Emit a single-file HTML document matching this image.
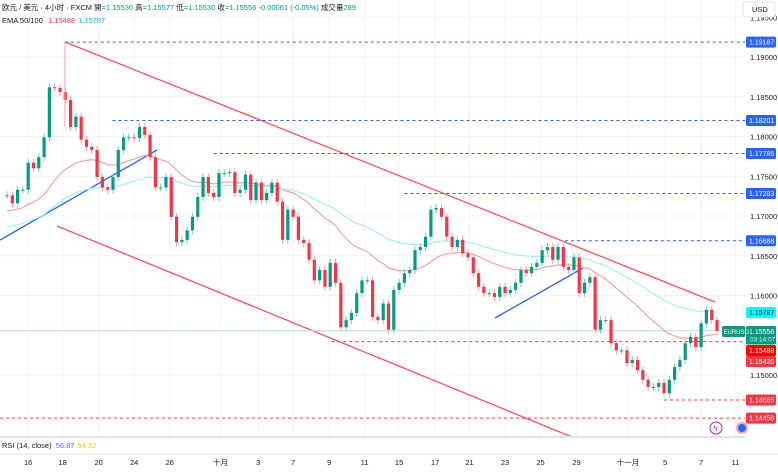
<!DOCTYPE html>
<html><head><meta charset="utf-8">
<style>
html,body{margin:0;padding:0;background:#fff;}
body{width:778px;height:469px;overflow:hidden;font-family:"Liberation Sans","Noto Sans CJK SC",sans-serif;}
svg text{font-family:"Liberation Sans","Noto Sans CJK SC",sans-serif;}
</style></head>
<body>
<svg id="chart" width="778" height="469" viewBox="0 0 778 469" xmlns="http://www.w3.org/2000/svg">
<g id="grid"></g>
<g id="drawings"></g>
<g id="emas"></g>
<g id="candles"></g>
<g id="axis"></g>
<g id="labels"></g>
<g id="timeaxis"></g>
<text x="2" y="10" font-size="7.5" fill="#131722">欧元 / 美元 · 4小时 · FXCM <tspan>開</tspan><tspan fill="#089981">=1.15530</tspan> 高<tspan fill="#089981">=1.15577</tspan> 低<tspan fill="#089981">=1.15530</tspan> 收<tspan fill="#089981">=1.15556 -0.00061 (-0.05%)</tspan> 成交量<tspan fill="#089981">289</tspan></text>
<text x="2" y="23" font-size="7.5" fill="#131722">EMA 50/100 <tspan fill="#f23645" dx="3">1.15488</tspan><tspan fill="#00bcd4" dx="3">1.15787</tspan></text>
<line x1="0" y1="437" x2="745" y2="437" stroke="#e0e3eb" stroke-width="2"/>
<line x1="0" y1="454" x2="778" y2="454" stroke="#e0e3eb" stroke-width="1"/>
<text x="2" y="448" font-size="7.5" fill="#131722">RSI (14, close) <tspan fill="#7e57c2" dx="2">56.87</tspan><tspan fill="#f7c325" dx="3">54.32</tspan></text>
<rect x="743" y="2" width="32" height="15" rx="2" fill="#fff" stroke="#e0e3eb"/>
<text x="752" y="12" font-size="7.5" fill="#131722">USD</text>
<g><circle cx="716" cy="428" r="6" fill="#fff" stroke="#9c27b0" stroke-width="1"/><text x="713.5" y="431" font-size="8" fill="#9c27b0">ϟ</text></g>
<g><circle cx="742" cy="428" r="6" fill="#f7a6a6"/><circle cx="742" cy="428" r="4" fill="#2962ff"/></g>
</svg>
<script>
const closes = [1.1726,1.1716,1.1733,1.1733,1.1767,1.1760,1.1774,1.1799,1.1862,1.1861,1.1856,1.1846,1.1812,1.1825,1.1796,1.1787,1.1783,1.1749,1.1736,1.1733,1.1749,1.1783,1.1799,1.1799,1.1798,1.1812,1.1802,1.1774,1.1736,1.1736,1.1749,1.1699,1.1667,1.1670,1.1682,1.1699,1.1724,1.1749,1.1729,1.1724,1.1754,1.1754,1.1755,1.1729,1.1733,1.1752,1.1720,1.1742,1.1720,1.1729,1.1742,1.1718,1.1670,1.1708,1.1699,1.1670,1.1666,1.1645,1.1619,1.1632,1.1611,1.1641,1.1616,1.1560,1.1569,1.1578,1.1603,1.1619,1.1619,1.1573,1.1569,1.1590,1.1557,1.1607,1.1616,1.1628,1.1632,1.1657,1.1661,1.1674,1.1708,1.1710,1.1699,1.1674,1.1661,1.1670,1.1653,1.1648,1.1628,1.1611,1.1603,1.1603,1.1598,1.1611,1.1603,1.1607,1.1616,1.1632,1.1628,1.1636,1.1641,1.1657,1.1661,1.1645,1.1661,1.1636,1.1632,1.1648,1.1603,1.1616,1.1623,1.1557,1.1569,1.1569,1.1540,1.1531,1.1531,1.1515,1.1519,1.1506,1.1494,1.1485,1.1485,1.1490,1.1477,1.1494,1.1510,1.1519,1.1540,1.1548,1.1535,1.1565,1.1582,1.1569,1.15556];
const priceTicks = [1.195,1.19,1.185,1.18,1.175,1.17,1.165,1.16,1.15];
const dateLabels = ["16","18","20","24","26","十月","3","7","9","11","15","17","21","23","25","29","十一月","5","7","11"];
const dateIndex = [4,10.5,17.3,24,30.7,40.3,47.4,54,60.8,67.5,74,80.8,87.3,94,100.7,107.5,117.2,124.2,131,137.5];
const blueLevels = [1.19187,1.18201,1.17786,1.17283,1.16688];
const blueLevelStart = [10.9,19.9,39,75,105.3];
const redLevels = [1.15420,1.14685,1.14458];
const redLevelStart = [61.2,124,-1.3];
const emaSeed = [1.1705,1.1685];
const emaPeriods = [28,56];

const NS="http://www.w3.org/2000/svg";
const X0=7, STEP=(717-7)/(closes.length-1);
const xs=i=>X0+i*STEP;
const ys=p=>57+(1.19-p)*7950;
function mk(tag,attrs,parent){const e=document.createElementNS(NS,tag);for(const k in attrs)e.setAttribute(k,attrs[k]);parent.appendChild(e);return e;}
const G=id=>document.getElementById(id);

priceTicks.forEach(p=>{const l=mk('line',{x1:0,x2:745,y1:ys(p),y2:ys(p),stroke:'#f0f3fa','stroke-width':1},G('grid'));

});
dateIndex.forEach(i=>{const l=mk('line',{x1:xs(i),x2:xs(i),y1:0,y2:436,stroke:'#f0f3fa','stroke-width':1},G('grid'));

});

priceTicks.forEach(p=>{const t=mk('text',{x:750,y:ys(p)+3,'font-size':7.5,fill:'#131722'},G('axis'));t.textContent=p.toFixed(5);

});

dateLabels.forEach((d,k)=>{const t=mk('text',{x:xs(dateIndex[k]),y:465,'font-size':7.5,fill:'#131722','text-anchor':'middle'},G('timeaxis'));t.textContent=d;

});

const dr=G('drawings');
[[65,42,715,302],[57,226,572,437]].forEach(c=>{const l=mk('line',{x1:c[0],y1:c[1],x2:c[2],y2:c[3],stroke:'#f7525f','stroke-width':1.3},dr);

});
[[0,240,157,150],[495,318,583,268]].forEach(c=>{const l=mk('line',{x1:c[0],y1:c[1],x2:c[2],y2:c[3],stroke:'#2962ff','stroke-width':1.3},dr);

});
blueLevels.forEach((p,k)=>{const l=mk('line',{x1:xs(blueLevelStart[k]),x2:745,y1:ys(p),y2:ys(p),stroke:'#2962ff','stroke-width':1,'stroke-dasharray':'3,3'},dr);

});
redLevels.forEach((p,k)=>{const l=mk('line',{x1:Math.max(0,xs(redLevelStart[k])),x2:745,y1:ys(p),y2:ys(p),stroke:'#f23645','stroke-width':1,'stroke-dasharray':'3,3'},dr);

});
const last=closes[closes.length-1];
{const l=mk('line',{x1:0,x2:745,y1:ys(last),y2:ys(last),stroke:'#b2dfdb','stroke-width':1},dr);

}

const emaCols=['#f7a0a0','#9ff0f5'];
emaPeriods.forEach((n,k)=>{let e=emaSeed[k];const a=2/(n+1);let d='';
closes.forEach((c,i)=>{e=e+a*(c-e);d+=(i?'L':'M')+xs(i).toFixed(1)+','+ys(e).toFixed(1);});
const p=mk('path',{d:d,fill:'none',stroke:emaCols[k],'stroke-width':1.2},G('emas'));

});

const cg=G('candles');
closes.forEach((c,i)=>{const o=i?closes[i-1]:c;const up=c>=o;const col=up?'#089981':'#f23645';
const yt=ys(Math.max(o,c)),yb=ys(Math.min(o,c));const x=xs(i);
const w=mk('line',{x1:x,x2:x,y1:yt-4,y2:yb+4,stroke:up?'#7cc9bb':'#f7a0a0','stroke-width':1},cg);


const r=mk('rect',{x:x-1.6,y:yt,width:3.2,height:Math.max(1,yb-yt),fill:col},cg);

});
{const l=mk('line',{x1:65,x2:65,y1:ys(1.19187),y2:ys(1.1812),stroke:'#f7a0a0','stroke-width':1},cg);

}

const lg=G('labels');
function tagAt(yTop,txt,bg,fg,h){const r=mk('rect',{x:746,y:yTop,width:30,height:h||11,rx:1.5,fill:bg},lg);


const t=mk('text',{x:749,y:yTop+8,'font-size':7,fill:fg},lg);t.textContent=txt;}
blueLevels.forEach(p=>tagAt(ys(p)-5.5,p.toFixed(5),'#2962ff','#fff'));
tagAt(307,'1.15787','#00ffff','#131722');
tagAt(326,last.toFixed(5),'#089981','#fff',18.5);
{const t=mk('text',{x:750,y:341.5,'font-size':6.5,fill:'#d7f5ee'},lg);t.textContent='03:14:07';}
tagAt(345,'1.15488','#ff0000','#fff');
tagAt(356,'1.15420','#f23645','#fff');
tagAt(ys(1.14685)-5.5,'1.14685','#f23645','#fff');
tagAt(ys(1.14458)-5.5,'1.14458','#f23645','#fff');
{const r=mk('rect',{x:722,y:326,width:23,height:11,rx:1.5,fill:'#089981'},lg);


const t=mk('text',{x:723.5,y:334,'font-size':6,fill:'#fff'},lg);t.textContent='EURUSD';}
</script>
</body></html>
